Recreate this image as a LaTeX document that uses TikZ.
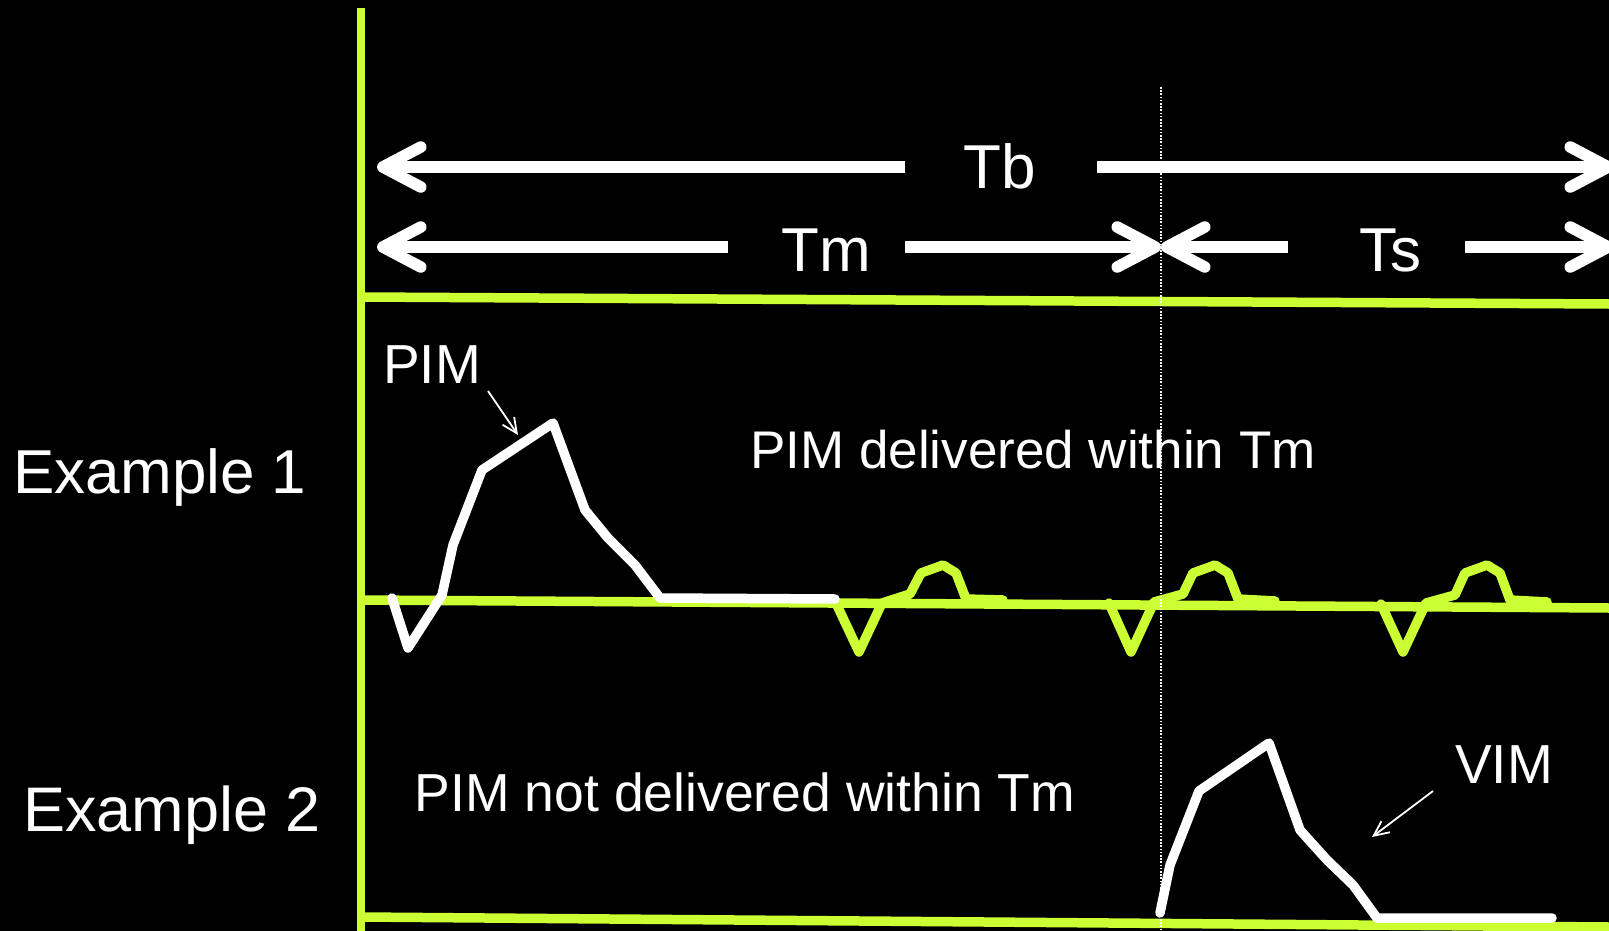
\documentclass[tikz,border=0pt]{standalone}
\usepackage{fontspec}
\setmainfont{Liberation Sans}
\usetikzlibrary{arrows.meta}
\definecolor{ecggreen}{RGB}{204,255,51}

\tikzset{
  axisline/.style={draw=ecggreen,line width=9.5pt},
  dimarrow/.style={draw=white,line width=11.5pt,-{Straight Barb[length=38pt,width=40pt,round]}},
  pulse/.style={draw=white,line width=9.5pt,line join=round,line cap=round},
  beat/.style={draw=ecggreen,line width=9.5pt,line join=round,line cap=round},
  pointer/.style={draw=white,line width=1.8pt,-{Straight Barb[length=15pt,width=14pt]}},
  lbl/.style={text=white,inner sep=0pt,anchor=base},
}

\begin{document}
\begin{tikzpicture}[x=1pt,y=-1pt]
  \useasboundingbox (0,0) rectangle (1609,931);
  \fill[black] (0,0) rectangle (1609,931);

  % frame and time lines
  \draw[axisline,line width=7.5pt] (361,8) -- (361,931);
  \draw[axisline] (361,297) -- (1609,304);
  \draw[axisline] (361,600) -- (1609,608);
  \draw[axisline] (361,917) -- (1609,927);

  % labels
  \node[lbl,font=\fontsize{62}{70}\selectfont] (ex1) at (160,493) {Example 1};
  \node[lbl,font=\fontsize{63}{72}\selectfont] (ex2) at (172,831) {Example 2};
  \node[lbl,font=\fontsize{62}{72}\selectfont] (tb) at (1000,189) {Tb};
  \node[lbl,font=\fontsize{62}{72}\selectfont] (tm) at (826,271) {Tm};
  \node[lbl,font=\fontsize{62}{72}\selectfont] (ts) at (1390,271) {Ts};
  \node[lbl,font=\fontsize{55}{64}\selectfont] (pim) at (432,383) {PIM};
  \node[lbl,font=\fontsize{55}{64}\selectfont] (vim) at (1504,783) {VIM};
  \node[lbl,font=\fontsize{53}{62}\selectfont] (pimin) at (1033,468) {PIM delivered within Tm};
  \node[lbl,font=\fontsize{53.5}{62}\selectfont] (pimout) at (745,811) {PIM not delivered within Tm};

  % dimension arrows
  \coordinate (tbL) at (377,167);  \coordinate (tbA) at (905,167);
  \coordinate (tbB) at (1097,167); \coordinate (tbR) at (1614,167);
  \coordinate (tmL) at (377,247);  \coordinate (tmA) at (728,247);
  \coordinate (tmB) at (905,247);  \coordinate (split) at (1161,247);
  \coordinate (tsA) at (1288,247); \coordinate (tsB) at (1465,247);
  \coordinate (tsR) at (1614,247);
  \draw[dimarrow] (tbA) -- (tbL);
  \draw[dimarrow] (tbB) -- (tbR);
  \draw[dimarrow] (tmA) -- (tmL);
  \draw[dimarrow] (tmB) -- (split);
  \draw[dimarrow] (tsA) -- (split);
  \draw[dimarrow] (tsB) -- (tsR);

  % heart beats
  \draw[beat] (835,601) -- (859,652) -- (882,603) -- (910,594) -- (921,573) -- (943,565)
    -- (956,573) -- (966,599) -- (1003,600);
  \draw[beat] (1109,603) -- (1131,652) -- (1154,602) -- (1183,594) -- (1193,573) -- (1215,565)
    -- (1228,573) -- (1238,599) -- (1275,601);
  \draw[beat] (1381,604) -- (1403,652) -- (1426,603) -- (1455,595) -- (1465,573) -- (1487,565)
    -- (1500,573) -- (1510,600) -- (1547,602);

  % pacing pulses
  \draw[pulse] (392,598) -- (408,648) -- (442,595) -- (453,545) -- (482,470) -- (553,423)
    -- (585,510) -- (608,538) -- (635,565) -- (660,598) -- (835,599);
  \draw[pulse] (1160,913) -- (1170,865) -- (1199,791) -- (1269,743) -- (1300,830)
    -- (1327,860) -- (1353,885) -- (1377,918) -- (1552,918);

  % pointers
  \coordinate (pimtail) at (488,391);   \coordinate (pimhead) at (518,435);
  \coordinate (vimtail) at (1433,791);  \coordinate (vimhead) at (1372,837);
  \draw[pointer] (pimtail) -- (pimhead);
  \draw[pointer] (vimtail) -- (vimhead);

  % end of Tm
  \draw[white,line width=1.6pt,dash pattern=on 1.6pt off 1.6pt] (1161,87) -- (1161,931);
\end{tikzpicture}
\end{document}
